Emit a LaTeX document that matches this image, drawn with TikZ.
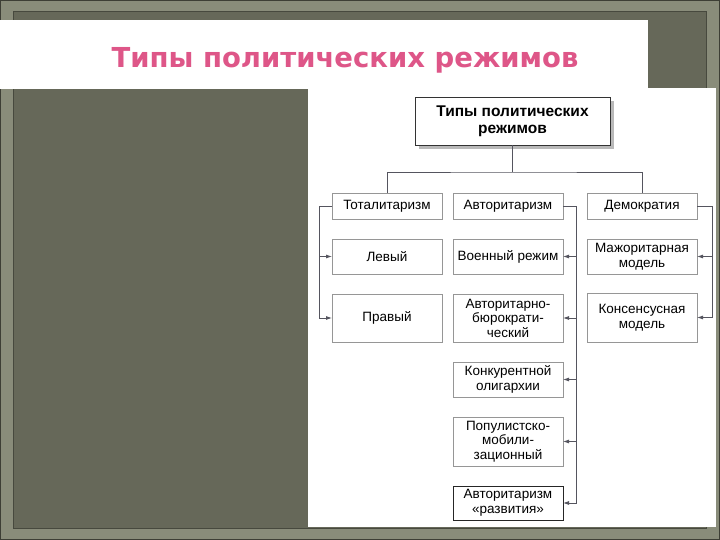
\documentclass[tikz,border=0pt]{standalone}
\usepackage{fontspec}
\setmainfont{Liberation Sans}
\newfontfamily\titlefont{DejaVu Sans}
\usetikzlibrary{arrows.meta,shadows}

\definecolor{framelight}{RGB}{137,140,122}
\definecolor{framedark}{RGB}{102,104,89}
\definecolor{titlepink}{RGB}{222,86,136}
\definecolor{boxline}{RGB}{150,150,150}
\definecolor{linkline}{RGB}{85,85,95}

\tikzset{
  rbox/.style={draw=boxline, line width=0.8pt, fill=white, anchor=north west,
               inner sep=0pt, outer sep=0pt, align=center,
               font=\fontsize{13.5}{14.5}\selectfont},
  link/.style={draw=linkline, line width=0.8pt},
  linkarr/.style={link, -{Latex[length=6pt,width=4pt]}},
}

\begin{document}
\begin{tikzpicture}[x=1pt, y=-1pt]
  \def\bw{110pt}  % box width
  \def\xa{332}    % column 1
  \def\xb{453}    % column 2
  \def\xc{587}    % column 3

  \useasboundingbox (0,0) rectangle (720,540);

  % slide frame
  \fill[framelight] (0,0) rectangle (720,540);
  \draw[framedark!60!black, line width=1pt] (0.5,0.5) rectangle (719.5,539.5);
  \fill[framedark] (13,12) rectangle (706,528);
  \draw[framedark!70!black, line width=1pt] (13,12) rectangle (706,528);
  \fill[white] (0,20) rectangle (648,89);
  \fill[white] (308,88) rectangle (716,527);

  % title
  \node[font=\titlefont\bfseries\fontsize{27.5}{30}\selectfont, text=titlepink]
    (title) at (345,60) {Типы политических режимов};

  % root
  \node[rbox, draw=black!80, minimum width=195pt, minimum height=48pt,
        font=\bfseries\fontsize{15.5}{17}\selectfont,
        drop shadow={shadow xshift=4pt, shadow yshift=-4pt, fill=gray!55, opacity=1}]
    (top) at (415,97) {Типы политических\\режимов};

  % row 1
  \node[rbox, minimum width=\bw, minimum height=26pt] (tot) at (\xa,193) {Тоталитаризм};
  \node[rbox, minimum width=\bw, minimum height=26pt] (avt) at (\xb,193) {Авторитаризм};
  \node[rbox, minimum width=\bw, minimum height=26pt] (dem) at (\xc,193) {Демократия};

  % totalitarian
  \node[rbox, minimum width=\bw, minimum height=35pt] (lev)  at (\xa,239) {Левый};
  \node[rbox, minimum width=\bw, minimum height=48pt] (prav) at (\xa,294) {Правый};

  % authoritarian
  \node[rbox, minimum width=\bw, minimum height=35pt] (voen) at (\xb,239) {Военный режим};
  \node[rbox, minimum width=\bw, minimum height=48pt] (bur)  at (\xb,294) {Авторитарно-\\бюрократи-\\ческий};
  \node[rbox, minimum width=\bw, minimum height=35pt] (konk) at (\xb,362) {Конкурентной\\олигархии};
  \node[rbox, minimum width=\bw, minimum height=49pt] (pop)  at (\xb,417) {Популистско-\\мобили-\\зационный};
  \node[rbox, draw=black!85, minimum width=\bw, minimum height=34pt] (razv) at (\xb,486) {Авторитаризм\\«развития»};

  % democratic
  \node[rbox, minimum width=\bw, minimum height=35pt] (maj)  at (\xc,239) {Мажоритарная\\модель};
  \node[rbox, minimum width=\bw, minimum height=49pt] (kons) at (\xc,293) {Консенсусная\\модель};

  % tree lines
  \coordinate (bus) at (512.5,172);
  \draw[link] (top.south) -- (bus);
  \draw[link] (tot.north) |- (bus) -| (dem.north);

  \foreach \n in {lev,prav}
    \draw[linkarr] (tot.west) -| ([xshift=-13pt]\n.west) -- (\n.west);
  \foreach \n in {voen,bur,konk,pop,razv}
    \draw[linkarr] (avt.east) -| ([xshift=13pt]\n.east) -- (\n.east);
  \foreach \n in {maj,kons}
    \draw[linkarr] (dem.east) -| ([xshift=15pt]\n.east) -- (\n.east);
\end{tikzpicture}
\end{document}
